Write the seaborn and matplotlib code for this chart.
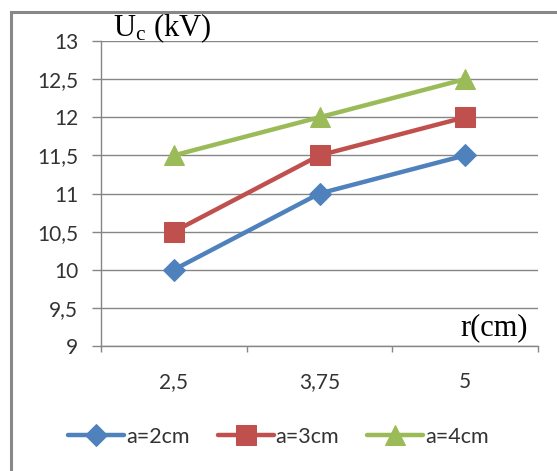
import matplotlib
matplotlib.use("Agg")
import matplotlib.pyplot as plt
import seaborn as sns
import pandas as pd
from matplotlib.patches import Rectangle
from matplotlib.ticker import FuncFormatter

categories = ["2,5", "3,75", "5"]
a2 = [10.0, 11.0, 11.5]
a3 = [10.5, 11.5, 12.0]
a4 = [11.5, 12.0, 12.5]
series_names = ["a=2cm", "a=3cm", "a=4cm"]
y_ticks = [9, 9.5, 10, 10.5, 11, 11.5, 12, 12.5, 13]

sns.set_theme(style="white")
plt.rcParams['font.family'] = ['Lato', 'DejaVu Sans']
plt.rcParams['mathtext.fontset'] = 'custom'
plt.rcParams['mathtext.rm'] = 'Liberation Serif'
plt.rcParams['mathtext.it'] = 'Liberation Serif:italic'

rows = []
for name, vals in zip(series_names, [a2, a3, a4]):
    for c, v in zip(categories, vals):
        rows.append({"r": c, "U": v, "series": name})
df = pd.DataFrame(rows)

colors = {"a=2cm": "#4F81BD", "a=3cm": "#C0504D", "a=4cm": "#9BBB59"}
markers = {"a=2cm": "D", "a=3cm": "s", "a=4cm": "^"}
msizes = {"a=2cm": 11, "a=3cm": 14.5, "a=4cm": 14}

fig = plt.figure(figsize=(5.57, 4.71), dpi=100)
ax = fig.add_axes([101/557, 1 - 346/471, (538 - 101)/557, (346 - 41)/471])

for name in series_names:
    sub = df[df.series == name]
    sns.lineplot(data=sub, x="r", y="U", ax=ax, color=colors[name],
                 marker=markers[name], markersize=msizes[name],
                 markeredgecolor=colors[name], linewidth=3.2, label=name,
                 sort=False)

ax.set_xlim(-0.5, 2.5)
ax.set_ylim(9, 13)
ax.set_yticks(y_ticks)
ax.yaxis.set_major_formatter(FuncFormatter(lambda v, p: (f"{v:g}").replace(".", ",")))
ax.set_xticks([0, 1, 2])
ax.set_xticklabels(categories)
ax.set_xticks([-0.5, 0.5, 1.5, 2.5], minor=True)
ax.tick_params(axis='x', which='major', length=0, pad=19, labelsize=15, colors='#333333')
ax.tick_params(axis='x', which='minor', length=4, width=1, color='#868686', direction='out', bottom=True)
ax.tick_params(axis='y', length=6.5, width=1, color='#868686', direction='out', left=True, labelsize=15, labelcolor='#333333', pad=10)
ax.grid(axis='y', color='#868686', linewidth=1)
ax.grid(axis='x', visible=False)
ax.set_axisbelow(True)
for s in ['top', 'right']:
    ax.spines[s].set_visible(False)
for s in ['left', 'bottom']:
    ax.spines[s].set_color('#868686')
    ax.spines[s].set_linewidth(1)
ax.set_xlabel("")
ax.set_ylabel("")

ax.legend_.remove()
handles, labels = ax.get_legend_handles_labels()
fig.legend(handles, labels, loc='center', bbox_to_anchor=(0.5, 1 - 437/471), ncol=3,
           frameon=False, fontsize=15.5, handlelength=2.6, handletextpad=0.1,
           columnspacing=1.3, labelcolor='#333333')

fig.text(113/557, 1 - 36/471, r"U$_{\mathrm{c}}$ (kV)", fontsize=22,
         fontfamily='Liberation Serif', ha='left', va='baseline', color='black')
fig.text(528/557, 1 - 335/471, "r(cm)", fontsize=22,
         fontfamily='Liberation Serif', ha='right', va='baseline', color='black')

fig.patches.append(Rectangle((11/557, -0.1), 1.2, 1 - 12/471 + 0.1, transform=fig.transFigure,
                             fill=False, edgecolor='#888888', linewidth=2.2))

fig.savefig("out.png", dpi=100)
